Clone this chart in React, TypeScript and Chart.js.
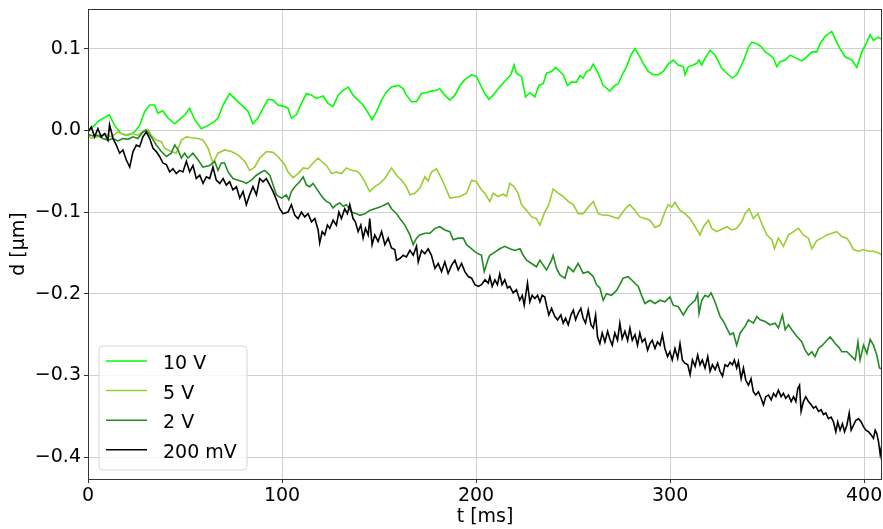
import React, { useEffect, useRef } from "react";
import { Chart, registerables } from "chart.js";

Chart.register(...registerables);

const seriesLabels = ["10 V", "5 V", "2 V", "200 mV"];
const seriesColors = ["#00ff00", "#9acd32", "#228b22", "#000000"];
const xTicks = [0, 100, 200, 300, 400];
const yTicks = [-0.4, -0.3, -0.2, -0.1, 0.0, 0.1];
const xLabel = "t [ms]";
const yLabel = "d [\u03bcm]";

// 10 V
const t10 = [0, 3.4, 5.1, 11, 13.7, 17, 20.6, 24, 26.6, 29.2, 31.8, 34.3, 36, 38.6, 41.2, 44.7, 48, 50, 52.4, 55, 58.4, 62, 65.3, 67, 69.6, 73, 76.5, 80, 82.5, 85, 87.6, 90.2, 92.8, 95.4, 97.9, 101.4, 103.1, 104.8, 107.4, 110, 112.6, 115.2, 117.7, 121.2, 123.7, 126.3, 128.9, 131.5, 134.1, 136.6, 139.2, 141.8, 144.4, 146.4, 148.7, 151.3, 153.8, 156.4, 159.9, 162.4, 164.1, 166.7, 169.3, 171.9, 174.5, 177, 179.6, 181.3, 183.9, 186.5, 189.1, 191.7, 194.2, 197.7, 200.2, 202.8, 204.5, 206.6, 208.8, 211.4, 214.8, 217.9, 219.6, 220.8, 223.4, 225.5, 227.7, 230.3, 232.4, 234.6, 236.3, 238.9, 241, 243.2, 244.9, 247.1, 249.2, 251.8, 253.5, 255.2, 256.9, 258.7, 260.4, 262.9, 265.5, 269, 271.5, 273.3, 275.3, 277.6, 279.8, 281.9, 283.9, 286.2, 288.7, 291.3, 293.9, 296.5, 299, 301.6, 304.2, 306.8, 307.7, 309.4, 312, 313.7, 314.9, 316.3, 318, 320.6, 323.2, 324.9, 326.6, 328.3, 330.1, 332.1, 334.3, 336.1, 338.3, 340.4, 342.1, 344.7, 347.2, 349, 351.5, 353.3, 355, 356.7, 359.3, 361.9, 364.4, 367.9, 370.4, 373, 375.6, 377.3, 379.9, 383.3, 385.4, 387.6, 390.2, 393.7, 396.2, 398.8, 401.4, 403.1, 404.8, 407.4, 409.8];
const v10 = [-0.001, 0.006, 0.011, 0.019, 0.006, -0.004, -0.006, -0.002, 0.006, 0.023, 0.031, 0.031, 0.021, 0.024, 0.015, 0.008, 0.015, 0.019, 0.027, 0.013, 0.002, 0.006, 0.011, 0.015, 0.031, 0.045, 0.037, 0.029, 0.023, 0.008, 0.015, 0.027, 0.038, 0.037, 0.031, 0.029, 0.027, 0.015, 0.019, 0.033, 0.045, 0.043, 0.039, 0.042, 0.033, 0.029, 0.043, 0.049, 0.053, 0.043, 0.037, 0.031, 0.021, 0.013, 0.023, 0.037, 0.047, 0.053, 0.055, 0.051, 0.043, 0.035, 0.035, 0.045, 0.046, 0.048, 0.049, 0.051, 0.043, 0.037, 0.043, 0.055, 0.062, 0.068, 0.066, 0.053, 0.045, 0.038, 0.043, 0.051, 0.06, 0.068, 0.08, 0.07, 0.066, 0.041, 0.046, 0.041, 0.055, 0.057, 0.07, 0.072, 0.077, 0.072, 0.068, 0.055, 0.059, 0.059, 0.067, 0.064, 0.072, 0.074, 0.081, 0.07, 0.055, 0.048, 0.055, 0.057, 0.068, 0.078, 0.092, 0.1, 0.092, 0.082, 0.072, 0.068, 0.068, 0.072, 0.081, 0.086, 0.08, 0.078, 0.068, 0.078, 0.08, 0.082, 0.086, 0.08, 0.088, 0.098, 0.092, 0.084, 0.076, 0.072, 0.068, 0.064, 0.068, 0.076, 0.088, 0.102, 0.108, 0.106, 0.102, 0.096, 0.092, 0.088, 0.078, 0.084, 0.086, 0.092, 0.089, 0.085, 0.09, 0.096, 0.096, 0.106, 0.115, 0.121, 0.11, 0.1, 0.09, 0.086, 0.077, 0.096, 0.108, 0.117, 0.11, 0.114, 0.11];

// 5 V
const t5 = [0, 1.7, 5.1, 8.6, 12, 15.4, 18.9, 22.3, 25.7, 29.2, 30.9, 32.6, 35.2, 37.8, 39.5, 42.9, 45.5, 48.1, 50.7, 53.3, 56.7, 59.3, 61.9, 64.4, 67, 70.4, 73.9, 77.3, 80.8, 83.3, 85.9, 88.5, 92, 95.4, 97.9, 101.4, 103.1, 105.7, 108.3, 110.9, 113.4, 116, 118.6, 121.2, 122.9, 125.5, 128, 130.6, 133.2, 135.8, 138.4, 140.1, 142.7, 145.2, 147.8, 150.4, 153, 156.4, 159, 161.6, 164.1, 165.9, 168.4, 171, 173.6, 175.3, 177, 179.6, 182.2, 184.8, 186.5, 189.1, 191.7, 195.1, 197.7, 200.2, 202.8, 204.5, 207.1, 208.8, 211.4, 214, 215.7, 217.4, 219.6, 221.7, 223.4, 226, 228.6, 231.1, 232.9, 235.4, 237.5, 239.7, 242.3, 244.9, 247.5, 250.1, 252.6, 255.2, 257.8, 260.4, 263, 265.5, 268.1, 270.7, 273.3, 275, 277.6, 279.3, 281.9, 284.4, 287, 289.6, 292.2, 294.8, 297.3, 299, 300.8, 302.5, 305.1, 307.6, 310.3, 312.9, 315.4, 317.2, 319.7, 321.5, 324, 326.6, 329.2, 331.8, 334.3, 336.9, 338.6, 340.7, 342.9, 345.2, 347.2, 349.8, 352.4, 353.8, 355.8, 358.4, 361, 363.6, 366.1, 368.7, 371.3, 373, 375.6, 378.2, 380.8, 383.3, 385.9, 388.5, 391.1, 392.8, 394.5, 397.1, 399.7, 402.3, 404.8, 407.4, 409.8];
const v5 = [-0.006, -0.01, -0.008, -0.004, -0.008, -0.002, -0.006, -0.004, -0.006, 0, 0.001, -0.006, -0.012, -0.014, -0.022, -0.026, -0.028, -0.012, -0.008, -0.009, -0.01, -0.012, -0.022, -0.04, -0.028, -0.024, -0.026, -0.03, -0.038, -0.049, -0.045, -0.034, -0.026, -0.027, -0.032, -0.042, -0.051, -0.058, -0.053, -0.046, -0.047, -0.04, -0.034, -0.04, -0.043, -0.053, -0.051, -0.053, -0.046, -0.049, -0.05, -0.053, -0.063, -0.075, -0.069, -0.065, -0.059, -0.046, -0.055, -0.061, -0.069, -0.079, -0.077, -0.071, -0.057, -0.062, -0.051, -0.047, -0.059, -0.073, -0.083, -0.082, -0.081, -0.077, -0.061, -0.063, -0.073, -0.077, -0.087, -0.077, -0.081, -0.078, -0.081, -0.065, -0.069, -0.077, -0.091, -0.098, -0.106, -0.108, -0.116, -0.1, -0.091, -0.072, -0.077, -0.081, -0.087, -0.091, -0.102, -0.102, -0.094, -0.087, -0.102, -0.104, -0.104, -0.106, -0.108, -0.102, -0.094, -0.091, -0.098, -0.106, -0.108, -0.11, -0.119, -0.116, -0.1, -0.091, -0.094, -0.088, -0.098, -0.102, -0.108, -0.118, -0.128, -0.118, -0.11, -0.12, -0.124, -0.121, -0.118, -0.122, -0.12, -0.112, -0.102, -0.096, -0.108, -0.102, -0.114, -0.128, -0.134, -0.145, -0.132, -0.142, -0.128, -0.124, -0.12, -0.128, -0.132, -0.145, -0.135, -0.132, -0.128, -0.126, -0.124, -0.13, -0.132, -0.138, -0.146, -0.148, -0.146, -0.148, -0.148, -0.15, -0.154];

// 2 V
const t2 = [0, 2.5, 5.1, 7.7, 10.3, 12.9, 15.4, 18, 20.6, 23.2, 25.7, 28.3, 30, 32.6, 35.2, 37.8, 40.4, 42.9, 44.7, 46.4, 48.1, 49.8, 51.5, 54.1, 56.7, 59.3, 62.7, 65.3, 67, 68.7, 70.4, 72.2, 74.7, 77.3, 79.9, 81.6, 84.2, 86.8, 89.4, 91.1, 93.7, 95.4, 97.1, 99.7, 102.2, 103.5, 104.8, 106.6, 109.1, 110.9, 112.6, 114.3, 116, 117.7, 119.4, 121.2, 122.9, 124.6, 126.3, 128, 129.8, 131.5, 133.2, 135.8, 138.4, 140.1, 142.7, 145.2, 147.8, 150.4, 153, 154.7, 156.4, 159, 160.7, 163.3, 165.9, 167.6, 169.3, 171, 173.6, 176.2, 178.8, 181.3, 183.9, 186.5, 188.2, 190.8, 193.4, 195.1, 197.7, 200.2, 202.8, 204.2, 206.3, 207.1, 209.7, 212.2, 214.8, 217.4, 220, 222.6, 224.3, 226, 228.6, 231.1, 232.9, 234.6, 236.3, 238.9, 239.7, 241.5, 243.2, 245.8, 247.5, 250.1, 252.6, 255.2, 257.8, 260.4, 262.1, 263.8, 265.5, 267.2, 269.8, 272.4, 274.1, 275.8, 278.4, 281, 283.6, 285.3, 287, 289.6, 292.2, 294.8, 297.3, 299.9, 301.6, 304.2, 306.8, 309.4, 311.1, 312.9, 314.2, 314.9, 316.3, 318, 319.7, 321.1, 322.8, 324, 325.8, 327.5, 329.2, 330.9, 332.6, 334.3, 336.1, 338.6, 340.4, 342.9, 344.7, 346.4, 349, 351.5, 354.1, 355.8, 357.9, 359.3, 361, 362.7, 365.3, 367.9, 369.6, 371.3, 373, 374.7, 376.5, 378.5, 380.8, 382.5, 385.1, 386.8, 388.5, 391.1, 393.7, 395.4, 396.8, 397.9, 399.7, 401.4, 403.1, 404.8, 406.5, 407.9, 409.8];
const v2 = [-0.005, -0.007, -0.006, -0.01, -0.012, -0.01, -0.013, -0.01, -0.011, -0.008, -0.01, -0.002, 0, -0.008, -0.018, -0.026, -0.032, -0.028, -0.018, -0.024, -0.034, -0.028, -0.034, -0.028, -0.036, -0.045, -0.043, -0.038, -0.049, -0.04, -0.04, -0.051, -0.059, -0.061, -0.063, -0.065, -0.061, -0.055, -0.051, -0.049, -0.055, -0.067, -0.079, -0.083, -0.079, -0.085, -0.075, -0.069, -0.063, -0.057, -0.067, -0.069, -0.065, -0.071, -0.077, -0.083, -0.087, -0.089, -0.095, -0.091, -0.089, -0.093, -0.091, -0.1, -0.102, -0.104, -0.102, -0.098, -0.096, -0.094, -0.091, -0.089, -0.096, -0.102, -0.108, -0.116, -0.128, -0.14, -0.132, -0.128, -0.126, -0.126, -0.12, -0.118, -0.122, -0.124, -0.134, -0.132, -0.132, -0.14, -0.145, -0.15, -0.153, -0.173, -0.157, -0.153, -0.149, -0.145, -0.142, -0.145, -0.147, -0.145, -0.153, -0.159, -0.163, -0.167, -0.159, -0.165, -0.171, -0.159, -0.153, -0.169, -0.177, -0.181, -0.167, -0.173, -0.163, -0.175, -0.173, -0.179, -0.189, -0.193, -0.208, -0.2, -0.202, -0.196, -0.189, -0.181, -0.179, -0.185, -0.191, -0.202, -0.212, -0.208, -0.212, -0.208, -0.21, -0.204, -0.214, -0.216, -0.226, -0.216, -0.212, -0.208, -0.2, -0.224, -0.208, -0.202, -0.204, -0.199, -0.208, -0.216, -0.228, -0.234, -0.242, -0.25, -0.248, -0.263, -0.248, -0.24, -0.232, -0.236, -0.228, -0.232, -0.234, -0.238, -0.236, -0.242, -0.226, -0.244, -0.238, -0.244, -0.252, -0.259, -0.269, -0.275, -0.271, -0.277, -0.267, -0.263, -0.257, -0.253, -0.261, -0.265, -0.271, -0.271, -0.277, -0.281, -0.259, -0.281, -0.263, -0.273, -0.256, -0.263, -0.275, -0.291, -0.293];

// 200 mV
const t0 = [0, 1.7, 3.4, 5.1, 6.8, 8.6, 10.3, 11.1, 12.9, 14.6, 16.3, 18, 19.7, 21.5, 23.2, 24.9, 26.6, 28.3, 30, 31.8, 33.5, 35.2, 36.9, 38.6, 40.4, 42.1, 43.8, 45.5, 47.2, 48.9, 50.7, 52.4, 54.1, 55.8, 57.6, 59.3, 61, 62.7, 64.4, 66.1, 67.9, 69.6, 71.3, 73, 74.7, 76.5, 78.2, 79.9, 81.6, 83.3, 85, 86.8, 88.5, 90.2, 91.9, 93.7, 95.4, 97.1, 98.8, 100.5, 103.1, 104.8, 106.6, 108.3, 110, 111.7, 113.4, 115.2, 116.9, 118.6, 119.4, 120.7, 122, 123.4, 124.6, 126.3, 128, 129.3, 130.6, 132.3, 133.7, 134.9, 136.6, 137.8, 139.2, 140.6, 141.8, 143, 144.4, 145.2, 146.4, 147.8, 149.5, 151.3, 153, 154.7, 156.4, 158.1, 159, 160.7, 162.4, 164.1, 165.9, 167.6, 169.3, 170.2, 171.9, 173.6, 175.3, 177, 178.8, 180.5, 182.2, 183.9, 185.6, 187.4, 189.1, 190.8, 192.5, 194.2, 196, 197.7, 199.4, 201.1, 202.8, 204.6, 206.3, 207.1, 208.3, 209.7, 211, 212.2, 213.4, 214.8, 216.2, 217.4, 219.1, 220.8, 222.5, 223.8, 224.8, 226.5, 227.7, 228.9, 230.3, 231.7, 232.9, 234.1, 235.4, 236.3, 237.5, 238.9, 240.6, 242, 243.7, 244.9, 246.1, 247.5, 248.9, 250.1, 251.3, 252.6, 254, 255.2, 256.4, 257.8, 259.2, 260.4, 261.6, 262.6, 263.8, 265, 266.4, 267.8, 269, 270.2, 271.5, 272.9, 274.1, 275.3, 276.7, 278.1, 279.3, 280.5, 281.9, 283.2, 284.4, 285.6, 287, 288.4, 289.6, 290.8, 292.2, 293.5, 294.8, 296, 297.3, 298.7, 299.9, 301.1, 302.5, 303.9, 305.1, 306.3, 307.6, 309.1, 310.3, 311.5, 312.9, 314.2, 315.4, 316.6, 318, 319.4, 320.6, 321.8, 323.2, 324.5, 325.7, 327, 328.3, 329.7, 330.9, 332.1, 333.1, 334.3, 335.2, 336.6, 337.8, 339, 340.4, 341.7, 342.9, 344.1, 345.5, 346.9, 348.1, 349.3, 350.7, 352.1, 353.3, 354.5, 355.8, 357.2, 358.4, 359.6, 361, 362.4, 363.6, 364.8, 365.8, 366.7, 367.5, 368.7, 369.9, 371.3, 372.7, 373.9, 375.1, 376.5, 377.8, 379, 380.2, 381.6, 383, 384.2, 385.4, 386.4, 387.6, 388.8, 389.9, 391.1, 392.3, 393.3, 394.5, 395.7, 397.1, 398.5, 399.7, 400.9, 402.3, 403.6, 404.8, 405.7, 406.5, 407.4, 408.3, 409.1, 409.8];
const v0 = [-0.002, 0.004, -0.008, 0.002, -0.008, -0.004, -0.012, 0.007, -0.01, -0.018, -0.028, -0.024, -0.036, -0.045, -0.026, -0.018, -0.02, -0.008, -0.002, -0.01, -0.022, -0.026, -0.032, -0.04, -0.042, -0.051, -0.047, -0.053, -0.049, -0.051, -0.038, -0.051, -0.043, -0.059, -0.055, -0.065, -0.057, -0.059, -0.045, -0.061, -0.065, -0.059, -0.067, -0.063, -0.073, -0.069, -0.083, -0.075, -0.091, -0.079, -0.069, -0.079, -0.059, -0.063, -0.059, -0.067, -0.075, -0.085, -0.096, -0.102, -0.1, -0.091, -0.104, -0.108, -0.1, -0.106, -0.102, -0.112, -0.108, -0.122, -0.138, -0.124, -0.128, -0.116, -0.12, -0.11, -0.116, -0.1, -0.108, -0.096, -0.102, -0.091, -0.108, -0.112, -0.124, -0.116, -0.132, -0.12, -0.128, -0.108, -0.14, -0.128, -0.136, -0.124, -0.14, -0.132, -0.144, -0.146, -0.159, -0.157, -0.153, -0.155, -0.147, -0.153, -0.142, -0.161, -0.147, -0.151, -0.145, -0.153, -0.169, -0.163, -0.173, -0.161, -0.175, -0.165, -0.159, -0.171, -0.163, -0.173, -0.179, -0.181, -0.189, -0.191, -0.189, -0.183, -0.187, -0.179, -0.191, -0.183, -0.189, -0.176, -0.189, -0.183, -0.193, -0.191, -0.199, -0.195, -0.208, -0.202, -0.214, -0.187, -0.21, -0.202, -0.206, -0.202, -0.21, -0.202, -0.204, -0.214, -0.226, -0.218, -0.228, -0.232, -0.226, -0.236, -0.23, -0.238, -0.226, -0.22, -0.232, -0.224, -0.218, -0.23, -0.236, -0.22, -0.238, -0.242, -0.226, -0.253, -0.261, -0.248, -0.259, -0.246, -0.256, -0.263, -0.248, -0.257, -0.236, -0.255, -0.246, -0.257, -0.242, -0.257, -0.25, -0.263, -0.248, -0.259, -0.255, -0.269, -0.261, -0.257, -0.267, -0.259, -0.263, -0.25, -0.267, -0.277, -0.271, -0.281, -0.267, -0.279, -0.261, -0.281, -0.285, -0.287, -0.299, -0.281, -0.289, -0.275, -0.287, -0.281, -0.291, -0.277, -0.295, -0.287, -0.293, -0.285, -0.295, -0.301, -0.287, -0.289, -0.284, -0.287, -0.281, -0.291, -0.283, -0.304, -0.291, -0.306, -0.312, -0.304, -0.32, -0.324, -0.32, -0.328, -0.336, -0.326, -0.324, -0.33, -0.322, -0.326, -0.318, -0.326, -0.322, -0.328, -0.324, -0.332, -0.326, -0.332, -0.316, -0.312, -0.344, -0.332, -0.326, -0.332, -0.336, -0.34, -0.338, -0.344, -0.342, -0.348, -0.346, -0.353, -0.351, -0.357, -0.369, -0.357, -0.367, -0.359, -0.369, -0.361, -0.346, -0.367, -0.361, -0.355, -0.353, -0.357, -0.363, -0.367, -0.369, -0.373, -0.377, -0.367, -0.371, -0.381, -0.397, -0.385, -0.381];

const seriesT = [t10, t5, t2, t0];
const seriesV = [v10, v5, v2, v0];

const FONT = "'DejaVu Sans', sans-serif";

const fmtMinus = (v: number, digits: number) => {
  const s = Number(v).toFixed(digits);
  return s.startsWith("-") ? "\u2212" + s.slice(1) : s;
};

const framePlugin = {
  id: "mplFrame",
  afterDraw(chart: any) {
    const { ctx, chartArea } = chart;
    const l = Math.round(chartArea.left) + 0.5;
    const t = Math.round(chartArea.top) + 0.5;
    const r = Math.round(chartArea.right) - 0.5;
    const b = Math.round(chartArea.bottom) + 0.5;
    ctx.save();
    ctx.strokeStyle = "#333333";
    ctx.lineWidth = 1;
    ctx.strokeRect(l, t, r - l, b - t);
    ctx.restore();
  },
};

const legendPlugin = {
  id: "mplLegend",
  afterDatasetsDraw(chart: any) {
    const { ctx, chartArea } = chart;
    const w = 148;
    const h = 124;
    const x0 = chartArea.left + 11;
    const y0 = chartArea.bottom - 9 - h;
    const rad = 4;
    ctx.save();
    ctx.beginPath();
    ctx.moveTo(x0 + rad, y0);
    ctx.lineTo(x0 + w - rad, y0);
    ctx.arcTo(x0 + w, y0, x0 + w, y0 + rad, rad);
    ctx.lineTo(x0 + w, y0 + h - rad);
    ctx.arcTo(x0 + w, y0 + h, x0 + w - rad, y0 + h, rad);
    ctx.lineTo(x0 + rad, y0 + h);
    ctx.arcTo(x0, y0 + h, x0, y0 + h - rad, rad);
    ctx.lineTo(x0, y0 + rad);
    ctx.arcTo(x0, y0, x0 + rad, y0, rad);
    ctx.closePath();
    ctx.fillStyle = "rgba(255,255,255,0.8)";
    ctx.fill();
    ctx.strokeStyle = "#d6d6d6";
    ctx.lineWidth = 1;
    ctx.stroke();
    ctx.font = `19px ${FONT}`;
    ctx.textBaseline = "alphabetic";
    ctx.textAlign = "left";
    chart.data.datasets.forEach((ds: any, i: number) => {
      const ly = y0 + 15 + i * 29.6;
      ctx.beginPath();
      ctx.moveTo(x0 + 7, ly);
      ctx.lineTo(x0 + 48, ly);
      ctx.strokeStyle = ds.borderColor;
      ctx.lineWidth = 1.5;
      ctx.stroke();
      ctx.fillStyle = "#000";
      ctx.fillText(ds.label, x0 + 64, ly + 8);
    });
    ctx.restore();
  },
};

export default function App() {
  const ref = useRef<HTMLCanvasElement | null>(null);
  useEffect(() => {
    if (!ref.current) return;
    const datasets = seriesLabels.map((label, i) => ({
      label,
      data: seriesT[i].map((x, j) => ({ x, y: seriesV[i][j] })),
      borderColor: seriesColors[i],
      backgroundColor: seriesColors[i],
      borderWidth: 1.6,
      pointRadius: 0,
      tension: 0,
      fill: false,
      order: seriesLabels.length - 1 - i,
    }));
    const chart = new Chart(ref.current, {
      type: "line",
      data: { datasets },
      options: {
        animation: false,
        responsive: false,
        maintainAspectRatio: false,
        layout: { padding: { top: 9, right: 1, left: 0, bottom: 0 } },
        plugins: { legend: { display: false }, tooltip: { enabled: false } },
        scales: {
          x: {
            type: "linear",
            min: 0,
            max: 409.2,
            afterBuildTicks: (s: any) => {
              s.ticks = xTicks.map((v) => ({ value: v }));
            },
            afterFit: (s: any) => {
              s.height = 50;
              s.paddingLeft = 0;
              s.paddingRight = 0;
            },
            grid: { color: "#d0d0d0", lineWidth: 1, tickColor: "#333", tickLength: 4, drawTicks: true },
            border: { display: false },
            ticks: {
              font: { family: FONT, size: 19 },
              color: "#000",
              padding: 2,
              maxRotation: 0,
              autoSkip: false,
              callback: (v: any) => String(v),
            },
            title: {
              display: true,
              text: xLabel,
              font: { family: FONT, size: 19 },
              color: "#000",
              padding: { top: 0, bottom: 1 },
            },
          },
          y: {
            type: "linear",
            min: -0.4268,
            max: 0.1485,
            afterBuildTicks: (s: any) => {
              s.ticks = yTicks.map((v) => ({ value: v }));
            },
            afterFit: (s: any) => {
              s.width = 88;
              s.paddingTop = 0;
              s.paddingBottom = 0;
            },
            grid: { color: "#d0d0d0", lineWidth: 1, tickColor: "#333", tickLength: 4, drawTicks: true },
            border: { display: false },
            ticks: {
              font: { family: FONT, size: 19 },
              color: "#000",
              padding: 3,
              autoSkip: false,
              callback: (v: any) => fmtMinus(v, 1),
            },
            title: {
              display: true,
              text: yLabel,
              font: { family: FONT, size: 19 },
              color: "#000",
              padding: { top: 8, bottom: 0 },
            },
          },
        },
      },
      plugins: [legendPlugin, framePlugin],
    } as any);
    return () => chart.destroy();
  }, []);
  return (
    <div style={{ position: "fixed", left: 0, top: 0, width: 883, height: 529, background: "#fff" }}>
      <canvas ref={ref} width={883} height={529} style={{ display: "block" }} />
    </div>
  );
}
